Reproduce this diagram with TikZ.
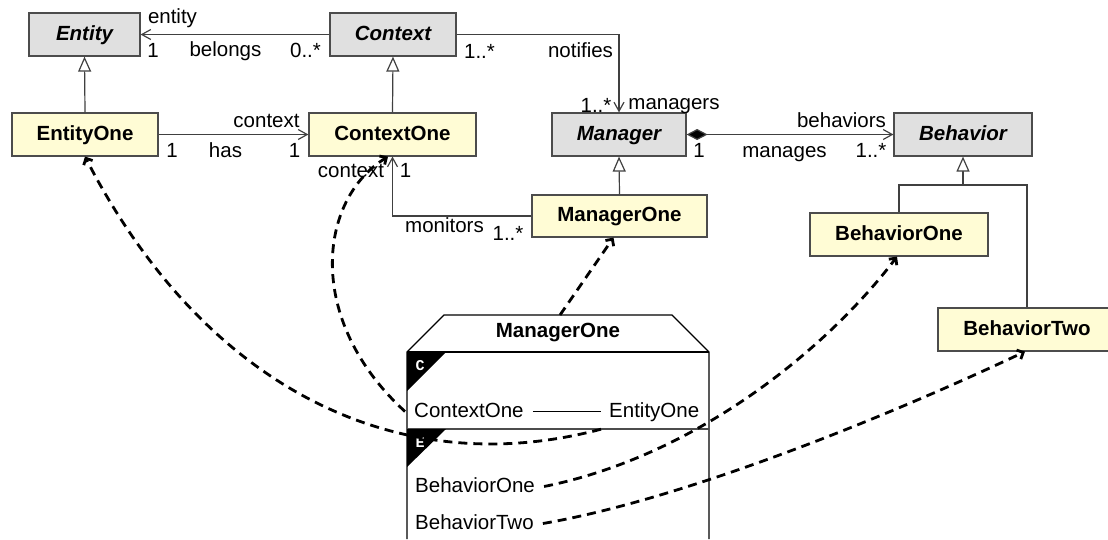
\documentclass[tikz,border=0pt]{standalone}
\usepackage{fontspec}
\setmainfont{Liberation Sans}
\newfontfamily\markfont{Liberation Mono}
\usetikzlibrary{arrows.meta}
\definecolor{absgray}{RGB}{224,224,224}
\definecolor{concyellow}{RGB}{255,252,213}
\newcommand\lblsize{\fontsize{20.5pt}{24pt}\selectfont}
\newcommand\marksize{\fontsize{15pt}{15pt}\selectfont}
\tikzset{
  cls/.style={draw=black!70, line width=1.2pt, minimum height=43pt, inner sep=0pt,
              text height=15pt, text depth=4pt},
  abscls/.style={cls, fill=absgray, font=\bfseries\itshape\lblsize},
  conccls/.style={cls, fill=concyellow, font=\bfseries\lblsize},
  lbl/.style={inner sep=0pt, anchor=base, font=\lblsize},
  reftext/.style={inner ysep=0pt, text height=15pt, text depth=4pt, font=\lblsize},
  conn/.style={draw=black!75, line width=1.2pt},
  assoc/.style={conn, -{Straight Barb[length=9pt,width=10pt]}},
  gen/.style={conn, -{Triangle[open,length=15pt,width=13pt,fill=white]}},
  bind/.style={draw=black, line width=2.8pt, dash pattern=on 9pt off 6pt,
               -{Straight Barb[length=5pt,width=10pt]}},
  marker/.style={text=white, font=\markfont\bfseries\marksize, inner sep=0pt},
}
\begin{document}
\begin{tikzpicture}[x=1pt,y=-1pt]
\useasboundingbox (0,0) rectangle (1108,539);

% abstract classes
\node[abscls, minimum width=111pt] (ent) at (84.5,34.5) {Entity};
\node[abscls, minimum width=126pt] (ctx) at (393,34.5) {Context};
\node[abscls, minimum width=134pt] (mgr) at (619,134.5) {Manager};
\node[abscls, minimum width=138pt] (beh) at (963,134.5) {Behavior};

% concrete classes
\node[conccls, minimum width=146pt] (e1) at (85,134.5) {EntityOne};
\node[conccls, minimum width=167pt] (co) at (392.5,134.5) {ContextOne};
\node[conccls, minimum width=175pt, minimum height=42pt] (mo) at (619.5,216) {ManagerOne};
\node[conccls, minimum width=178pt] (b1) at (899,234.5) {BehaviorOne};
\node[conccls, minimum width=178pt] (b2) at (1027,329.5) {BehaviorTwo};

% generalizations
\draw[gen] (e1.north) -- (ent.south);
\draw[gen] (co.north) -- (ctx.south);
\draw[gen] (mo.north) -- (mgr.south);
\coordinate (bj) at (963,185);
\draw[conn] (b1.north) |- (bj) -| (b2.north);
\draw[gen] (bj) -- (beh.south);

% associations
\draw[assoc] (ctx.west) -- (ent.east);
\draw[assoc] (e1.east) -- (co.west);
\draw[assoc] (ctx.east) -| (mgr.north);
\draw[assoc] (mo.west) -| (co.south);
\draw[conn, {Diamond[length=21pt,width=11pt,fill=black]}-{Straight Barb[length=9pt,width=10pt]}] (mgr.east) -- (beh.west);

% association labels
\node[lbl] at (172.5,23) {entity};
\node[lbl] at (153,57) {1};
\node[lbl] at (225.5,56) {belongs};
\node[lbl] at (305.5,57) {0..*};
\node[lbl] at (479.5,58) {1..*};
\node[lbl] at (580.5,57) {notifies};
\node[lbl] at (596,112) {1..*};
\node[lbl] at (674,109) {managers};
\node[lbl] at (266.5,127) {context};
\node[lbl] at (172,157) {1};
\node[lbl] at (225.5,157) {has};
\node[lbl] at (294.5,157) {1};
\node[lbl] at (351,177) {context};
\node[lbl] at (405.5,177) {1};
\node[lbl] at (444.5,232) {monitors};
\node[lbl] at (508,240) {1..*};
\node[lbl] at (699,157) {1};
\node[lbl] at (841.5,127) {behaviors};
\node[lbl] at (784.5,157) {manages};
\node[lbl] at (871,157) {1..*};

% ManagerOne instance box
\draw[black, line width=1.2pt] (407,539) -- (407,352) -- (444,315) -- (672,315) -- (709,352) -- (709,539);
\draw[black, line width=1.2pt] (407,352) -- (709,352);
\draw[black!70, line width=1.5pt] (407,429) -- (709,429);
\fill[black] (407,352) -- (446,352) -- (407,391) -- cycle;
\fill[black] (407,429) -- (446,429) -- (407,467) -- cycle;
\node[marker] at (420,366) {C};
\node[marker] at (420,443) {E};
\node[inner sep=0pt, text height=15pt, text depth=4pt, font=\bfseries\lblsize] (mtitle) at (558,331.5) {ManagerOne};
\coordinate (mtop) at (560,315);

\node[reftext, anchor=west, inner xsep=9pt] (c1ref) at (405,411.5) {ContextOne};
\node[reftext, anchor=west, inner xsep=8pt, minimum height=35pt] (e1ref) at (601,411.5) {EntityOne};
\draw[black, line width=1.2pt] (c1ref.east) -- (e1ref.west);
\node[reftext, anchor=west, inner xsep=9pt] (b1ref) at (406,486.5) {BehaviorOne};
\node[reftext, anchor=west, inner xsep=9pt] (b2ref) at (406,523.5) {BehaviorTwo};

% bindings
\draw[bind] (mtop) -- ([xshift=-6pt]mo.south);
\draw[bind] (e1ref.south west) .. controls (390,485) and (200,380) .. (e1.south);
\draw[bind] (c1ref.west) .. controls (305,320) and (318,200) .. ([xshift=-4.5pt]co.south);
\draw[bind] (b1ref.east) .. controls (700,455) and (830,345) .. ([xshift=-2pt]b1.south);
\draw[bind] (b2ref.east) .. controls (680,500) and (880,420) .. ([xshift=-2pt]b2.south);
\end{tikzpicture}
\end{document}
